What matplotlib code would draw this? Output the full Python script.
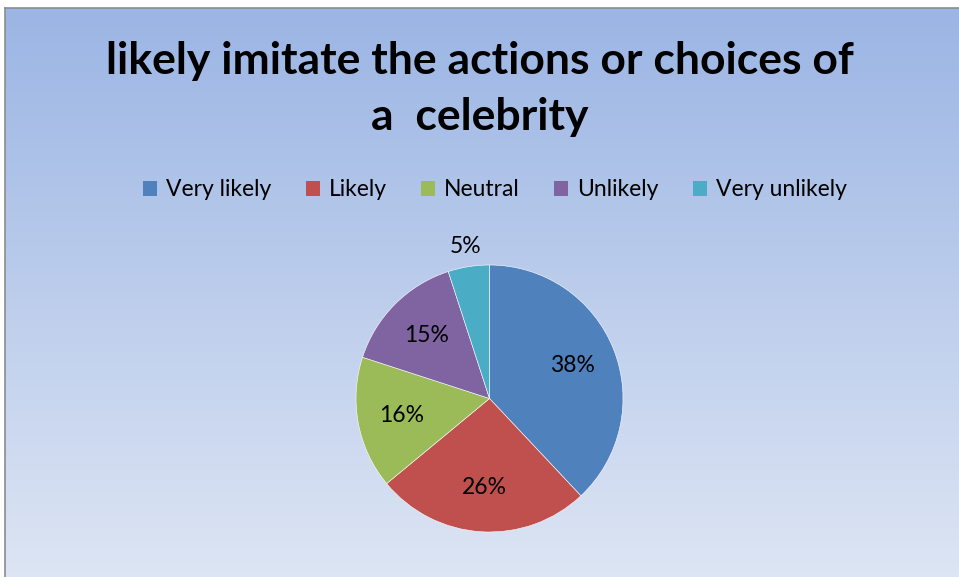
import numpy as np
import matplotlib
matplotlib.use("Agg")
import matplotlib.pyplot as plt
from matplotlib.colors import LinearSegmentedColormap
from matplotlib.patches import Patch
from matplotlib.lines import Line2D

plt.rcParams['font.family'] = ['Lato', 'DejaVu Sans']

# Survey responses (percent)
labels = ["Very likely", "Likely", "Neutral", "Unlikely", "Very unlikely"]
shares = [38, 26, 16, 15, 5]
colors = ["#4F81BD", "#C0504D", "#9BBB59", "#8064A2", "#4BACC6"]
title = "likely imitate the actions or choices of\na  celebrity"

W, H = 959, 577
fig = plt.figure(figsize=(W / 100, H / 100), dpi=100)
fig.patch.set_facecolor("white")

# gradient backdrop of the chart area, painted pixel for pixel
grad = LinearSegmentedColormap.from_list("bg", ["#9BB5E4", "#DDE5F4"])
rows = grad(np.linspace(0, 1, H - 8))[:, :3]
img = np.repeat(rows[:, None, :], W - 5, axis=1)
fig.figimage(img, xo=5, yo=0, origin="upper", zorder=-10)

# thin grey frame along the top and left edges
top = (H - 7.5) / H
fig.add_artist(Line2D([4.5 / W, 1], [top, top], color="#8C8C8C", lw=1.2))
fig.add_artist(Line2D([4.5 / W, 4.5 / W], [0, top], color="#8C8C8C", lw=1.2))

fig.text(0.5, 1 - 89 / H, title, ha="center", va="center", fontsize=32,
         fontweight="bold", linespacing=1.5, color="black")

# pie, starting at 12 o'clock and running clockwise
cx, cy, r = 489.5, 398.5, 133.5
ax = fig.add_axes([(cx - r) / W, (H - cy - r) / H, 2 * r / W, 2 * r / H])
ax.set_zorder(5)
ax.set_facecolor("none")
wedges, texts = ax.pie(shares, colors=colors, startangle=90, counterclock=False,
                       radius=1, wedgeprops=dict(edgecolor="white", linewidth=0.4))
for w, v in zip(wedges, shares):
    ang = np.deg2rad((w.theta1 + w.theta2) / 2)
    d = 1.15 if v < 10 else 0.67
    ax.text(d * np.cos(ang), d * np.sin(ang), f"{v}%", ha="center", va="center",
            fontsize=16.5, color="black")
ax.set_xlim(-1, 1)
ax.set_ylim(-1, 1)
ax.set_aspect("auto")

handles = [Patch(facecolor=c, edgecolor="none") for c in colors]
fig.legend(handles, labels, loc="center", bbox_to_anchor=(495 / W, 1 - 190 / H),
           ncol=5, frameon=False, fontsize=16.5, handlelength=0.6, handleheight=0.6,
           handletextpad=0.4, columnspacing=1.5)

fig.savefig("out.png", dpi=100, facecolor="white")
